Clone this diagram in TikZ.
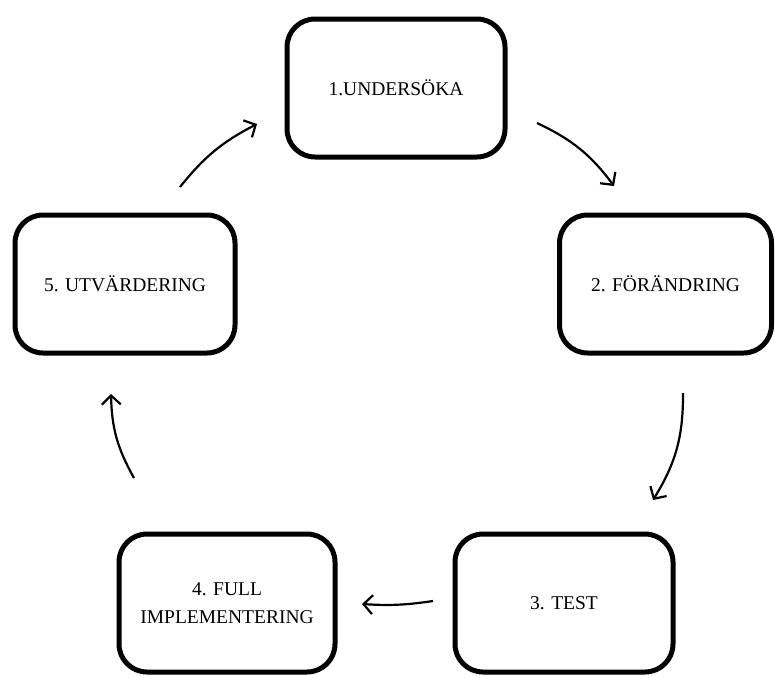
\documentclass[tikz,border=0pt]{standalone}
\usepackage{fontspec}
\setmainfont{Liberation Serif}
\usetikzlibrary{arrows.meta}
\begin{document}
\begin{tikzpicture}[x=1pt,y=-1pt,
  stepbox/.style={draw=black, line width=5pt, rounded corners=28pt,
    minimum width=218pt, minimum height=138pt, align=center,
    font=\fontsize{19.5}{28}\selectfont, inner sep=0pt},
  cyc/.style={line width=2.2pt, -{Straight Barb[length=9pt,width=19pt,line width=2.2pt]}}]
\useasboundingbox (0,0) rectangle (775,675);
\node[stepbox] (s1) at (396,88) {1.UNDERSÖKA};
\node[stepbox, minimum width=212pt] (s2) at (665.5,284) {2. FÖRÄNDRING};
\node[stepbox] (s3) at (564,603) {3. TEST};
\node[stepbox, minimum width=216pt] (s4) at (227,603) {4. FULL\\IMPLEMENTERING};
\node[stepbox, minimum width=220pt] (s5) at (125,284) {5. UTVÄRDERING};
\coordinate (a1s) at (537,123); \coordinate (a1e) at (614,186);
\coordinate (a2s) at (683,393); \coordinate (a2e) at (653,500);
\coordinate (a3s) at (433,601); \coordinate (a3e) at (362,604);
\coordinate (a4s) at (134,478); \coordinate (a4e) at (111,394);
\coordinate (a5s) at (180,187); \coordinate (a5e) at (257,124);
\draw[cyc] (a1s) to[bend left=14] (a1e);
\draw[cyc] (a2s) to[bend left=16] (a2e);
\draw[cyc] (a3s) to[bend left=6] (a3e);
\draw[cyc] (a4s) to[bend left=14] (a4e);
\draw[cyc] (a5s) to[bend left=12] (a5e);
\end{tikzpicture}
\end{document}
